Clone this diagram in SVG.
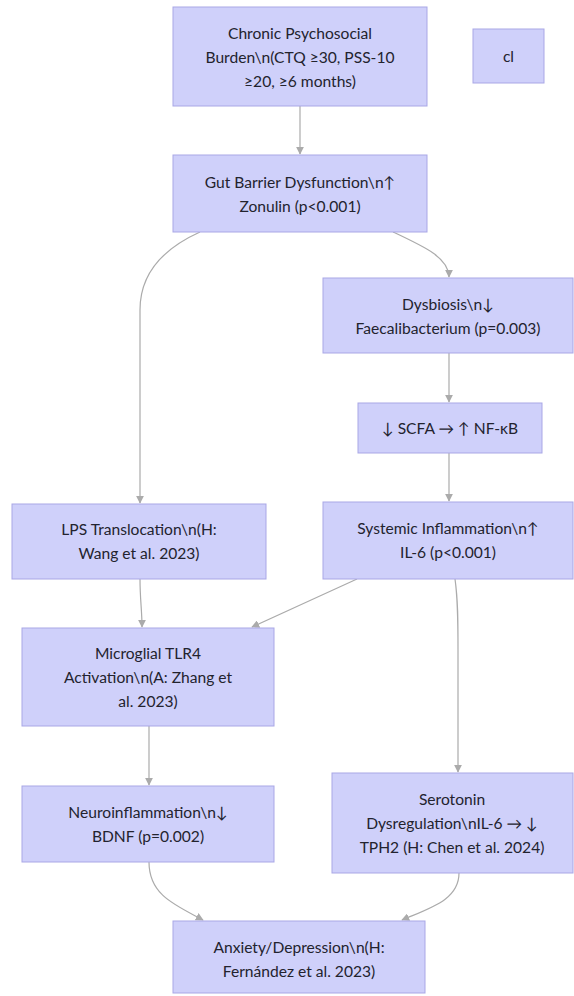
<svg xmlns="http://www.w3.org/2000/svg" width="574" height="996" viewBox="0 0 574 996">
<style>
.n rect{fill:#cfd0fa;stroke:#a9a7e6;stroke-width:1}
.n text{font-family:Lato,"Open Sans","Liberation Sans",sans-serif;font-size:15.6px;fill:#23232e;text-anchor:middle;dominant-baseline:central}
.e path{fill:none;stroke:#ababab;stroke-width:1.2}
</style>
<defs>
<marker id="ah" viewBox="0 0 10 10" refX="9" refY="5" markerWidth="8" markerHeight="8" markerUnits="userSpaceOnUse" orient="auto">
<path d="M0,0 L10,5 L0,10 z" fill="#ababab"/>
</marker>
</defs>
<rect width="574" height="996" fill="#ffffff"/>
<g class="e">
<path d="M300,106 L300,154" marker-end="url(#ah)"/>
<path d="M200,232 C160,250 140,275 140,310 L140,503" marker-end="url(#ah)"/>
<path d="M393,232 C425,247 449,258 449,277" marker-end="url(#ah)"/>
<path d="M449,353 L449,402" marker-end="url(#ah)"/>
<path d="M449,453 L449,501" marker-end="url(#ah)"/>
<path d="M140,579 C140,600 142,610 142,627" marker-end="url(#ah)"/>
<path d="M357,579 L252,627" marker-end="url(#ah)"/>
<path d="M455,579 C458,600 458,620 458,650 L458,772" marker-end="url(#ah)"/>
<path d="M149,726 L149,785" marker-end="url(#ah)"/>
<path d="M149,862 C149,895 175,905 203,920" marker-end="url(#ah)"/>
<path d="M459,873 C459,900 430,908 402,920" marker-end="url(#ah)"/>
</g>
<g id="chronic" class="n"><rect x="173" y="7" width="254" height="99"/>
<text x="300" y="33">Chronic Psychosocial</text><text x="300" y="57">Burden\n(CTQ ≥30, PSS-10</text><text x="300" y="81">≥20, ≥6 months)</text></g>
<g id="cl" class="n"><rect x="473" y="29" width="71" height="54"/><text x="508.5" y="56">cl</text></g>
<g id="gut" class="n"><rect x="173" y="155" width="254" height="77"/>
<text x="300" y="182">Gut Barrier Dysfunction\n↑</text><text x="300" y="206">Zonulin (p&lt;0.001)</text></g>
<g id="dysbiosis" class="n"><rect x="323" y="278" width="250" height="75"/>
<text x="448" y="304">Dysbiosis\n↓</text><text x="448" y="328">Faecalibacterium (p=0.003)</text></g>
<g id="scfa" class="n"><rect x="358" y="403" width="184" height="50"/>
<text x="450" y="428">↓ SCFA → ↑ NF-κB</text></g>
<g id="lps" class="n"><rect x="12" y="504" width="254" height="75"/>
<text x="139" y="529">LPS Translocation\n(H:</text><text x="139" y="553">Wang et al. 2023)</text></g>
<g id="systemic" class="n"><rect x="323" y="502" width="250" height="77"/>
<text x="448" y="528">Systemic Inflammation\n↑</text><text x="448" y="552">IL-6 (p&lt;0.001)</text></g>
<g id="microglial" class="n"><rect x="22" y="628" width="252" height="98"/>
<text x="148" y="653">Microglial TLR4</text><text x="148" y="677">Activation\n(A: Zhang et</text><text x="148" y="701">al. 2023)</text></g>
<g id="neuro" class="n"><rect x="22" y="786" width="252" height="76"/>
<text x="148" y="812">Neuroinflammation\n↓</text><text x="148" y="836">BDNF (p=0.002)</text></g>
<g id="serotonin" class="n"><rect x="332" y="773" width="241" height="100"/>
<text x="452" y="799">Serotonin</text><text x="452" y="823">Dysregulation\nIL-6 → ↓</text><text x="452" y="847">TPH2 (H: Chen et al. 2024)</text></g>
<g id="anxiety" class="n"><rect x="173" y="921" width="252" height="72"/>
<text x="299" y="947">Anxiety/Depression\n(H:</text><text x="299" y="971">Fernández et al. 2023)</text></g>
</svg>
